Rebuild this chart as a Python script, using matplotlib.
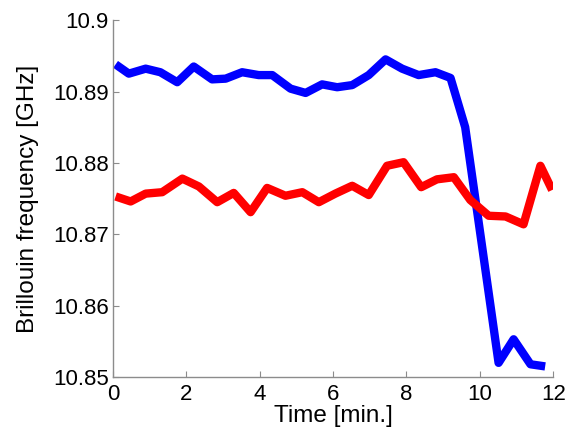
import matplotlib
matplotlib.use("Agg")
import matplotlib.pyplot as plt

plt.rcParams['font.family'] = ['Liberation Sans', 'DejaVu Sans']

# 蓝线：采样时间(min)和布里渊频率(GHz)
t_blue = [0.07, 0.43, 0.89, 1.29, 1.75, 2.20, 2.70, 3.07, 3.52, 3.97,
          4.34, 4.84, 5.25, 5.70, 6.11, 6.52, 6.97, 7.43, 7.88, 8.33,
          8.79, 9.20, 9.60, 10.05, 10.51, 10.92, 11.38, 11.78]
f_blue = [10.8938, 10.8925, 10.8932, 10.8927, 10.8913, 10.8935, 10.8917, 10.8918, 10.8927, 10.8923,
          10.8923, 10.8904, 10.8898, 10.8910, 10.8906, 10.8909, 10.8923, 10.8945, 10.8932, 10.8923,
          10.8927, 10.8919, 10.8850, 10.8687, 10.8520, 10.8553, 10.8518, 10.8515]

# 红线
t_red = [0.07, 0.48, 0.89, 1.34, 1.89, 2.34, 2.84, 3.29, 3.75, 4.20,
         4.70, 5.16, 5.61, 6.06, 6.52, 6.97, 7.47, 7.92, 8.40, 8.83,
         9.29, 9.74, 10.24, 10.70, 11.19, 11.65, 11.97]
f_red = [10.8753, 10.8746, 10.8757, 10.8759, 10.8778, 10.8767, 10.8745, 10.8758, 10.8731, 10.8765,
         10.8754, 10.8759, 10.8745, 10.8757, 10.8768, 10.8755, 10.8796, 10.8801, 10.8766, 10.8777,
         10.8780, 10.8748, 10.8726, 10.8725, 10.8714, 10.8796, 10.8762]

xticks = [0, 2, 4, 6, 8, 10, 12]
yticks = [10.85, 10.86, 10.87, 10.88, 10.89, 10.9]
ytick_labels = ['10.85', '10.86', '10.87', '10.88', '10.89', '10.9']

fig = plt.figure(figsize=(5.68, 4.37), dpi=100)
ax = fig.add_axes((0.199, 0.137, 0.775, 0.817))

ax.plot(t_blue, f_blue, color='#0000ff', lw=6, solid_joinstyle='round', solid_capstyle='butt')
ax.plot(t_red, f_red, color='#ff0000', lw=6, solid_joinstyle='round', solid_capstyle='butt')

ax.set_xlim(0, 12)
ax.set_ylim(10.85, 10.9)
ax.set_xticks(xticks)
ax.set_yticks(yticks)
ax.set_yticklabels(ytick_labels)

for s in ['top', 'right']:
    ax.spines[s].set_visible(False)
for s in ['left', 'bottom']:
    ax.spines[s].set_color('#8c8c8c')
    ax.spines[s].set_linewidth(1.0)

ax.tick_params(direction='in', length=4, width=0.8, color='#8c8c8c',
               labelsize=16, labelcolor='black')
ax.tick_params(axis='x', pad=5)
ax.tick_params(axis='y', pad=3)

ax.set_xlabel('Time [min.]', fontsize=17.5, labelpad=0)
ax.set_ylabel('Brillouin frequency [GHz]', fontsize=17.5, labelpad=10)

fig.savefig('out.png', dpi=100)
